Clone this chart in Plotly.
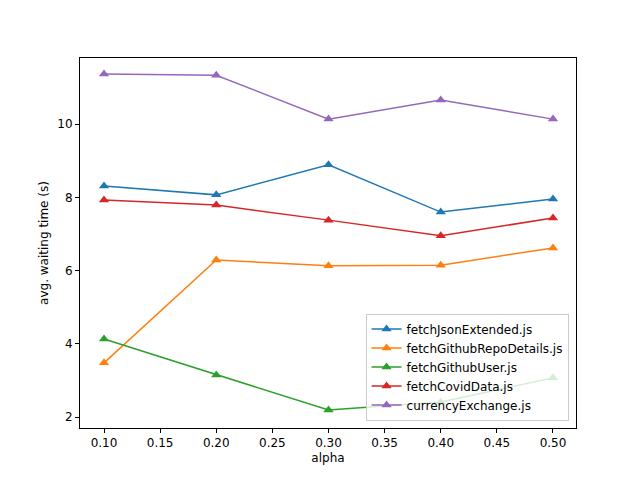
import plotly.graph_objects as go

alpha = [0.1, 0.2, 0.3, 0.4, 0.5]
names = ["fetchJsonExtended.js", "fetchGithubRepoDetails.js", "fetchGithubUser.js",
         "fetchCovidData.js", "currencyExchange.js"]
fetch_json = [8.31, 8.07, 8.89, 7.60, 7.96]
fetch_repo = [3.48, 6.29, 6.13, 6.15, 6.62]
fetch_user = [4.13, 3.15, 2.19, 2.41, 3.07]
fetch_covid = [7.93, 7.79, 7.38, 6.95, 7.44]
currency = [11.37, 11.34, 10.14, 10.66, 10.14]
colors = ["#1f77b4", "#ff7f0e", "#2ca02c", "#d62728", "#9467bd"]

fig = go.Figure()
for name, ys, c in zip(names, [fetch_json, fetch_repo, fetch_user, fetch_covid, currency], colors):
    fig.add_trace(go.Scatter(x=alpha, y=ys, name=name, mode="lines+markers",
                             line=dict(color=c, width=1.5),
                             marker=dict(symbol="triangle-up", size=9, color=c)))

axis = dict(showgrid=False, zeroline=False, showline=True, mirror=True, linecolor="black",
            ticks="outside", ticklen=4, tickcolor="black", tickfont=dict(size=12))
fig.update_layout(
    width=640, height=480, plot_bgcolor="white", paper_bgcolor="white",
    margin=dict(l=72, r=72, t=50, b=60),
    font=dict(family="DejaVu Sans", size=12, color="black"),
    xaxis=dict(axis, range=[0.0786, 0.5205], tickvals=[0.1, 0.15, 0.2, 0.25, 0.3, 0.35, 0.4, 0.45, 0.5],
               tickformat=".2f", title=dict(text="alpha", standoff=4, font=dict(size=12))),
    yaxis=dict(axis, range=[1.70, 11.81], tickvals=[2, 4, 6, 8, 10],
               title=dict(text="avg. waiting time (s)", standoff=6, font=dict(size=12))),
    legend=dict(x=0.985, y=0.02, xanchor="right", yanchor="bottom", bgcolor="rgba(255,255,255,0.8)",
                bordercolor="#cccccc", borderwidth=1, font=dict(size=12)),
)
fig.write_html("out.html")
